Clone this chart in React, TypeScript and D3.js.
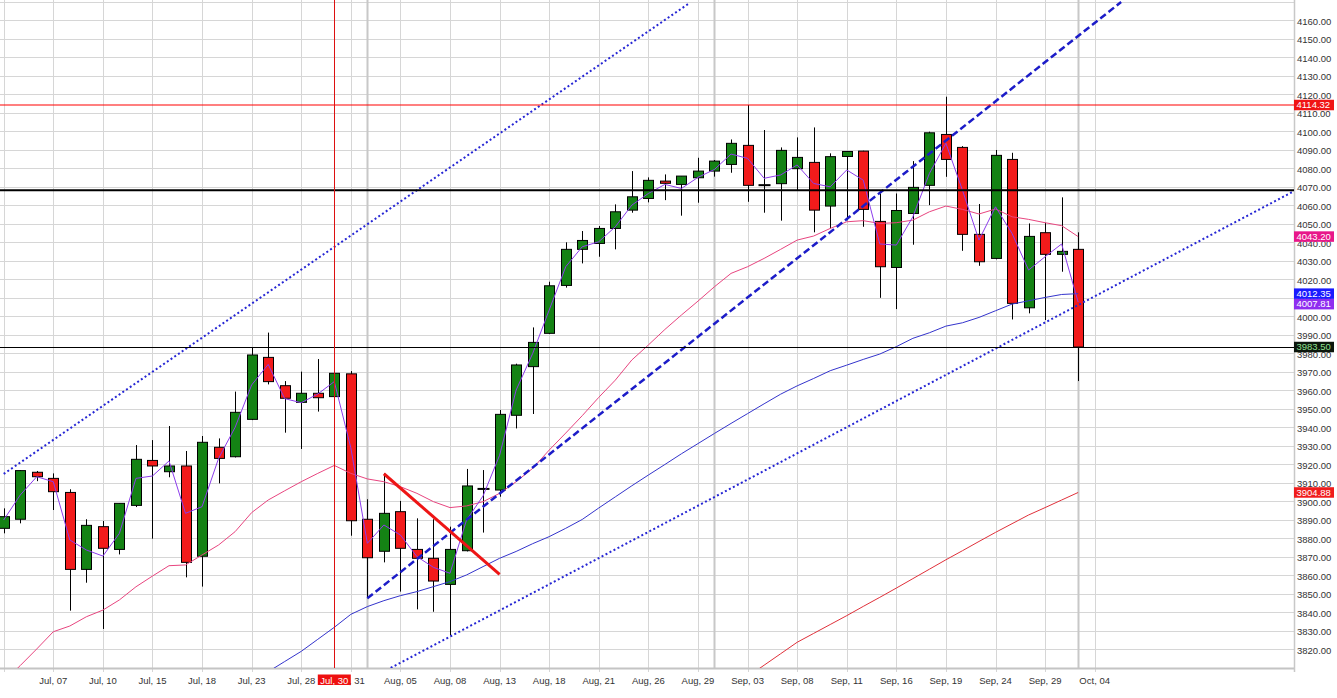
import React from "react";
import * as d3 from "d3";

// daily candles, index 0 .. 65
const opens = [
  3885.5, 3890.4, 3915.8, 3912.5, 3904.9, 3863.3, 3886.4, 3874.1, 3897.9, 3922.2,
  3916.1, 3919.2, 3870.4, 3929.3, 3924.2, 3944.4, 3977.9, 3962.6, 3953.6, 3958.5,
  3956.7, 3969.0, 3890.4, 3873.1, 3894.5, 3874.1, 3869.3, 3855.2, 3873.4, 3906.8,
  3906.2, 3946.6, 3972.9, 3990.9, 4016.8, 4036.3, 4039.5, 4047.6, 4057.5, 4063.8,
  4073.2, 4071.4, 4075.0, 4078.6, 4082.2, 4092.5, 4071.0, 4071.8, 4079.9, 4083.3,
  4059.7, 4086.5, 4089.4, 4051.4, 4026.5, 4055.7, 4070.9, 4098.4, 4091.4, 4044.4,
  4031.4, 4084.9, 4004.7, 4045.3, 4033.6, 4036.3,
];
const highs = [
  3896.3, 3917.0, 3916.5, 3915.2, 3906.6, 3890.4, 3889.5, 3899.0, 3930.5, 3933.2,
  3940.8, 3927.3, 3935.4, 3934.1, 3959.4, 3983.3, 3991.3, 3965.1, 3970.2, 3977.0,
  3971.5, 3970.5, 3901.2, 3915.2, 3900.3, 3890.9, 3890.4, 3886.4, 3917.6, 3917.0,
  3949.5, 3974.5, 3994.1, 4018.8, 4040.1, 4046.2, 4048.9, 4060.6, 4078.6, 4075.2,
  4076.8, 4075.9, 4085.8, 4084.6, 4095.7, 4114.3, 4100.8, 4091.4, 4096.8, 4102.2,
  4088.2, 4089.5, 4089.6, 4066.5, 4066.5, 4084.0, 4099.9, 4118.8, 4092.1, 4060.8,
  4090.0, 4088.5, 4050.3, 4050.7, 4064.4, 4045.5,
];
const lows = [
  3882.8, 3888.2, 3911.0, 3895.4, 3841.0, 3856.1, 3831.1, 3871.4, 3897.0, 3879.9,
  3913.1, 3859.0, 3854.0, 3909.8, 3923.8, 3944.0, 3963.3, 3937.2, 3928.4, 3948.6,
  3954.5, 3881.5, 3847.7, 3867.1, 3851.3, 3841.7, 3840.4, 3827.8, 3873.0, 3883.2,
  3902.6, 3939.5, 3947.3, 3990.5, 4015.6, 4028.7, 4032.3, 4036.3, 4056.1, 4061.7,
  4062.9, 4054.5, 4061.5, 4075.6, 4077.7, 4062.0, 4056.1, 4051.8, 4068.4, 4045.5,
  4047.6, 4052.0, 4048.5, 4010.1, 4004.0, 4038.8, 4060.2, 4075.5, 4035.5, 4027.4,
  4030.9, 3998.4, 4001.7, 3998.1, 4024.2, 3965.1,
];
const closes = [
  3891.8, 3916.7, 3913.4, 3905.3, 3863.3, 3887.1, 3874.7, 3899.0, 3922.8, 3919.2,
  3919.2, 3867.1, 3932.0, 3923.3, 3948.2, 3979.2, 3964.8, 3955.8, 3958.5, 3956.1,
  3969.3, 3889.6, 3869.6, 3893.6, 3874.7, 3869.3, 3857.0, 3874.1, 3908.4, 3906.8,
  3947.1, 3973.8, 3986.0, 4016.6, 4036.3, 4041.1, 4047.6, 4056.6, 4064.7, 4073.6,
  4072.0, 4075.9, 4078.6, 4084.0, 4093.6, 4070.9, 4071.0, 4089.8, 4086.0, 4057.5,
  4086.4, 4089.2, 4057.9, 4026.9, 4057.3, 4069.8, 4099.3, 4084.9, 4044.4, 4029.6,
  4087.1, 4007.1, 4043.3, 4033.6, 4035.2, 3983.5,
];

// moving averages
const maPurple = [
  3890.0, 3903.5, 3913.4, 3910.7, 3879.2, 3873.8, 3870.5, 3882.8, 3912.5, 3913.8,
  3921.9, 3893.6, 3897.2, 3923.3, 3940.1, 3963.0, 3974.1, 3955.6, 3953.4, 3958.1,
  3964.8, 3929.0, 3877.4, 3887.3, 3881.9, 3870.2, 3864.4, 3861.2, 3890.0, 3903.0,
  3925.0, 3960.2, 3980.0, 4003.5, 4026.9, 4037.7, 4040.4, 4048.5, 4060.2, 4066.5,
  4071.4, 4069.2, 4075.2, 4079.5, 4087.8, 4085.5, 4074.7, 4076.5, 4081.9, 4071.9,
  4070.1, 4079.2, 4073.7, 4039.2, 4038.6, 4053.9, 4077.3, 4093.6, 4068.3, 4041.3,
  4059.3, 4044.9, 4025.1, 4032.3, 4039.2, 4007.81,
];
const maPink = [
  3802.6, 3811.3, 3820.3, 3829.6, 3832.7, 3837.7, 3841.3, 3846.8, 3853.9, 3859.7,
  3865.3, 3865.7, 3871.1, 3876.5, 3883.7, 3894.0, 3900.8, 3905.8, 3910.7, 3915.2,
  3919.5, 3915.2, 3912.2, 3910.7, 3908.0, 3904.4, 3899.9, 3896.7, 3897.6, 3899.9,
  3904.4, 3910.7, 3917.9, 3927.8, 3937.0, 3946.4, 3956.3, 3965.6, 3976.5, 3984.6,
  3993.0, 4000.8, 4008.3, 4016.1, 4023.3, 4026.9, 4031.4, 4036.3, 4041.3, 4043.5,
  4047.6, 4051.2, 4051.8, 4050.3, 4050.7, 4052.1, 4056.6, 4059.7, 4057.9, 4055.4,
  4058.1, 4053.9, 4052.5, 4050.7, 4049.1, 4043.2,
];
const maBlueStart = 16;
const maBlue = [
  3808.0, 3813.5, 3819.0, 3825.5, 3832.0, 3839.0, 3843.2, 3846.4, 3849.1, 3851.3,
  3854.0, 3856.7, 3860.3, 3864.8, 3869.3, 3873.0, 3877.2, 3881.0, 3885.5, 3890.3,
  3896.5, 3902.5, 3908.5, 3914.3, 3920.0, 3925.8, 3931.3, 3936.8, 3942.2, 3947.5,
  3952.8, 3958.0, 3962.5, 3966.5, 3970.7, 3973.7, 3976.8, 3979.7, 3983.7, 3988.2,
  3991.2, 3994.8, 3996.6, 3999.5, 4003.1, 4006.7, 4008.5, 4010.3, 4011.9, 4012.35,
];
const maRedStart = 45;
const maRed = [
  3805.3, 3811.5, 3817.7, 3823.9, 3828.7, 3833.5, 3838.3, 3843.3, 3848.2, 3853.2,
  3858.3, 3863.4, 3868.5, 3873.4, 3878.4, 3883.3, 3888.0, 3892.7, 3896.7, 3900.8,
  3904.88,
];

// drawn trend lines: [index, price] pairs
const upperChannel = [[0, 3914.9], [41.5, 4169.5]];
const lowerChannel = [[23.17, 3808.9], [78, 4067.5]];
const supportDash = [[22, 3847.7], [67.6, 4170]];
const redSegment = [[23, 3915], [30, 3860.6]];

const resistance = 4114.32;
const thickLevel = 4068.2;
const lastPrice = 3983.5;

const tickLabels = [
  "Jul, 07", "Jul, 10", "Jul, 15", "Jul, 18", "Jul, 23", "Jul, 28", "Jul, 31",
  "Aug, 05", "Aug, 08", "Aug, 13", "Aug, 18", "Aug, 21", "Aug, 26", "Aug, 29",
  "Sep, 03", "Sep, 08", "Sep, 11", "Sep, 16", "Sep, 19", "Sep, 24", "Sep, 29", "Oct, 04",
];
const monthStarts = [22, 43, 65];
const crossIndex = 20;
const crossLabel = "Jul, 30";
const priceTicks = d3.range(3820, 4161, 10);

const W = 1337;
const H = 698;
const plotRight = 1294;
const plotBottom = 668;
const font = "'Liberation Sans', Arial, sans-serif";

const App = (): React.JSX.Element => {
  const x = d3.scaleLinear([0, 78], [3.7, 3.7 + 16.53 * 78]);
  const y = d3.scaleLinear([3810, 4171.08], [plotBottom, 0]);
  const px = (i: number) => Math.round(x(i)) + 0.5;
  const py = (v: number) => Math.round(y(v)) + 0.5;

  const line = d3
    .line<[number, number]>()
    .x((d) => x(d[0]))
    .y((d) => y(d[1]));
  const series = (vals: number[], start: number) =>
    line(vals.map((v, k) => [start + k, v] as [number, number])) as string;
  const seg = (pts: number[][]) => line(pts as [number, number][]) as string;

  const gridIdx = d3.range(0, 67, 3);

  // value tags on the price axis, pushed down when they collide (as the platform does)
  const tags = [
    { v: resistance, bg: "#f01414", fg: "#fff" },
    { v: maPink[maPink.length - 1], bg: "#e8178a", fg: "#fff" },
    { v: maBlue[maBlue.length - 1], bg: "#1a1aff", fg: "#fff" },
    { v: maPurple[maPurple.length - 1], bg: "#8f2ef0", fg: "#fff" },
    { v: lastPrice, bg: "#0c160c", fg: "#8ee08e" },
    { v: maRed[maRed.length - 1], bg: "#f01c1c", fg: "#fff" },
  ];
  const tagH = 10.5;
  let prevBottom = -Infinity;
  const placed = tags.map((t) => {
    const top = Math.max(y(t.v) - tagH / 2, prevBottom);
    prevBottom = top + tagH;
    return { ...t, top };
  });

  return (
    <svg width={W} height={H} style={{ position: "absolute", left: 0, top: 0, background: "#fff" }}>
      <defs>
        <clipPath id="plot">
          <rect x={0} y={0} width={plotRight} height={plotBottom} />
        </clipPath>
      </defs>

      {/* grid */}
      <g stroke="#d6d6d6" strokeWidth={1}>
        {d3.range(3810, 4171, 10).map((v) => (
          <line key={"h" + v} x1={0} x2={plotRight} y1={py(v)} y2={py(v)} />
        ))}
        {gridIdx.map((i) => (
          <line key={"v" + i} x1={px(i)} x2={px(i)} y1={0} y2={plotBottom + 4} />
        ))}
      </g>
      <g stroke="#c8c8c8" strokeWidth={2}>
        {monthStarts.map((i) => (
          <line key={"m" + i} x1={px(i)} x2={px(i)} y1={0} y2={plotBottom} />
        ))}
      </g>

      {/* axes */}
      <line x1={0} x2={plotRight} y1={plotBottom + 0.5} y2={plotBottom + 0.5} stroke="#c4c4c4" strokeWidth={2} />
      <line x1={plotRight + 0.5} x2={plotRight + 0.5} y1={0} y2={plotBottom + 4} stroke="#c8c8c8" strokeWidth={1.5} />

      <g clipPath="url(#plot)">
        {/* candles */}
        {closes.map((c, i) => {
          const o = opens[i];
          const cx = px(i);
          const doji = Math.abs(c - o) < 0.05;
          const top = y(Math.max(o, c));
          const bot = y(Math.min(o, c));
          return (
            <g key={"c" + i}>
              <line x1={cx} x2={cx} y1={y(highs[i])} y2={y(lows[i])} stroke="#000" strokeWidth={1} />
              {doji ? (
                <line x1={cx - 6} x2={cx + 6} y1={top} y2={top} stroke="#000" strokeWidth={2} />
              ) : (
                <rect
                  x={cx - 5}
                  y={top}
                  width={10}
                  height={Math.max(bot - top, 1)}
                  fill={c > o ? "#148214" : "#f21b1b"}
                  stroke="#000"
                  strokeWidth={1}
                />
              )}
            </g>
          );
        })}

        {/* moving averages */}
        <g fill="none" strokeWidth={1}>
          <path d={series(maRed, maRedStart)} stroke="#e0303a" />
          <path d={series(maBlue, maBlueStart)} stroke="#3434cc" />
          <path d={series(maPink, 0)} stroke="#e8457f" />
          <path d={series(maPurple, 0)} stroke="#8c3cec" />
        </g>

        {/* trend lines */}
        <g fill="none">
          <path d={seg(upperChannel)} stroke="#2626d4" strokeWidth={2} strokeDasharray="2 2.5" />
          <path d={seg(lowerChannel)} stroke="#2626d4" strokeWidth={2} strokeDasharray="2 2.5" />
          <path d={seg(supportDash)} stroke="#1c1cc8" strokeWidth={2.5} strokeDasharray="7 3.5" />
          <path d={seg(redSegment)} stroke="#ee1515" strokeWidth={3} />
        </g>

        {/* horizontal levels */}
        <line x1={0} x2={plotRight} y1={y(resistance)} y2={y(resistance)} stroke="#ff0000" strokeWidth={1.2} />
        <line x1={0} x2={plotRight} y1={y(thickLevel)} y2={y(thickLevel)} stroke="#000" strokeWidth={2} />
        <line x1={0} x2={plotRight} y1={py(lastPrice)} y2={py(lastPrice)} stroke="#000" strokeWidth={1} />

        {/* crosshair */}
        <line x1={px(crossIndex)} x2={px(crossIndex)} y1={0} y2={plotBottom} stroke="#dd1010" strokeWidth={1} />
      </g>

      {/* price axis labels */}
      <g fontFamily={font} fontSize={9.5} fill="#333">
        {priceTicks.map((v) => (
          <text key={"pt" + v} x={plotRight + 3} y={y(v) + 4.5}>
            {v.toFixed(2)}
          </text>
        ))}
      </g>
      {placed.map((t) => (
        <g key={"tag" + t.v}>
          <rect x={plotRight} y={t.top} width={40} height={tagH} fill={t.bg} />
          <text x={plotRight + 2.5} y={t.top + 8.5} fontSize={9.5} fill={t.fg} fontFamily={font}>
            {t.v.toFixed(2)}
          </text>
        </g>
      ))}

      {/* date axis labels */}
      <g fontFamily={font} fontSize={9.5} fill="#333" textAnchor="middle">
        {tickLabels.map((t, k) => (
          <text key={"xt" + k} x={x(3 + 3 * k)} y={683.5}>
            {t}
          </text>
        ))}
      </g>
      <rect x={x(crossIndex) - 16.5} y={674.5} width={33} height={10.5} fill="#ee1010" />
      <text x={x(crossIndex)} y={683.5} fontFamily={font} fontSize={9.5} fill="#fff" textAnchor="middle">
        {crossLabel}
      </text>
    </svg>
  );
};

export default App;
